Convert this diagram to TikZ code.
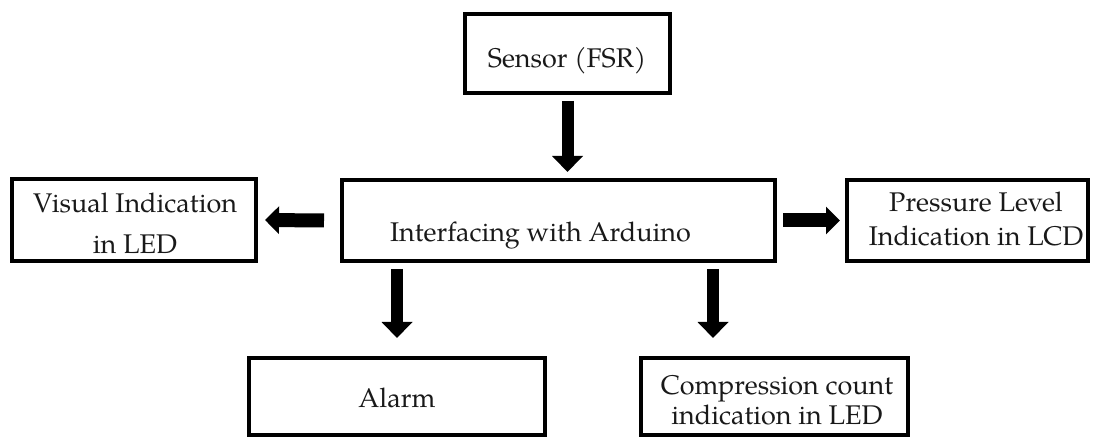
\documentclass[tikz,border=0pt]{standalone}
\usepackage{fontspec}
\setmainfont{TeX Gyre Pagella}
\usetikzlibrary{arrows.meta}
\begin{document}
\begin{tikzpicture}[x=1pt,y=-1pt,
  blockbox/.style={draw=black, line width=4pt, rectangle, inner sep=0pt, outer sep=0pt},
  lbl/.style={anchor=base, inner sep=0pt, font=\fontsize{27}{32}\selectfont, text=black!90},
  vfat/.style={line width=12pt, -{Triangle[length=16pt,width=30pt]}},
  hfat/.style={line width=14pt, -{Triangle[length=14pt,width=27pt]}}]
\useasboundingbox (0,0) rectangle (1095,438);
% boxes
\node[blockbox, minimum width=205pt, minimum height=79pt] (S) at (567.5,53.5) {};
\node[blockbox, minimum width=433pt, minimum height=81pt] (I) at (558.5,220.5) {};
\node[blockbox, minimum width=244pt, minimum height=82pt] (V) at (134,220) {};
\node[blockbox, minimum width=241pt, minimum height=81pt] (P) at (967.5,220.5) {};
\node[blockbox, minimum width=296pt, minimum height=77pt] (A) at (397,396.5) {};
\node[blockbox, minimum width=267pt, minimum height=77pt] (C) at (774.5,396.5) {};
% texts
\node[lbl] (tS) at (567,68) {Sensor (FSR)};
\node[lbl] (tI) at (540.5,242) {Interfacing with Arduino};
\node[lbl] (tV1) at (135,213) {Visual Indication};
\node[lbl] (tV2) at (135,254) {in LED};
\node[lbl] (tP1) at (976,212) {Pressure Level};
\node[lbl] (tP2) at (976,246) {Indication in LCD};
\node[lbl] (tA) at (397,407) {Alarm};
\node[lbl] (tC1) at (777,394) {Compression count};
\node[lbl] (tC2) at (777,424) {indication in LED};
% arrows
\coordinate (c5) at (713,0);
\draw[vfat] ([yshift=-8pt]S.south) -- ([yshift=8pt]S.south |- I.north);
\draw[hfat] ([xshift=-18pt]I.west) -- ([xshift=9pt]V.east);
\draw[hfat] ([xshift=8pt]I.east) -- ([xshift=-7pt]P.west);
\draw[vfat] ([yshift=-8pt]A.north |- I.south) -- ([yshift=20pt]A.north);
\draw[vfat] ([yshift=-8pt]c5 |- I.south) -- ([yshift=20pt]c5 |- C.north);
\end{tikzpicture}
\end{document}
